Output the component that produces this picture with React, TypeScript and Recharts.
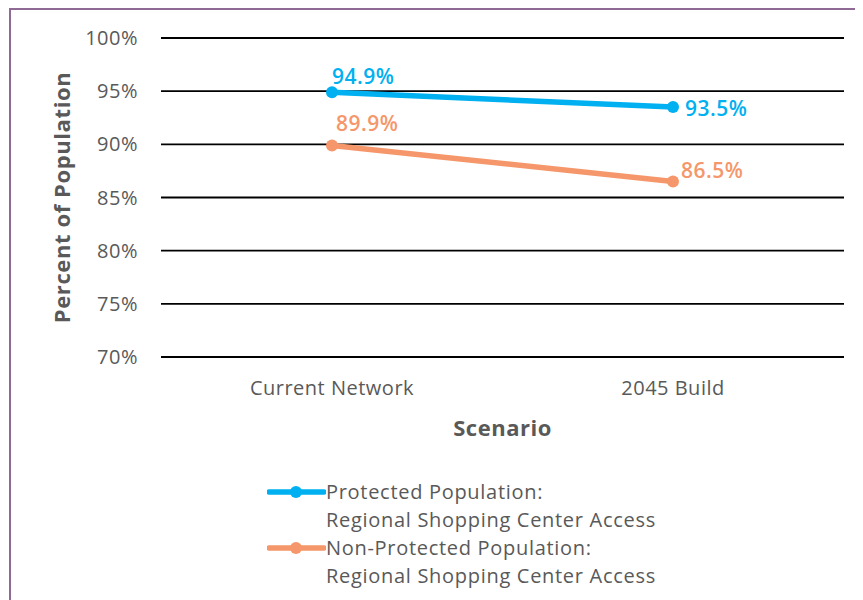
import { CartesianGrid, LabelList, Line, LineChart, XAxis, YAxis } from "recharts";

const scenarios = ["Current Network", "2045 Build"];
const protectedPct = [94.9, 93.5];
const nonProtectedPct = [89.9, 86.5];
const yTicks = [70, 75, 80, 85, 90, 95, 100];

const rows = scenarios.map((scenario, i) => ({
  scenario,
  protectedPct: protectedPct[i],
  nonProtectedPct: nonProtectedPct[i],
}));

const BLUE = "#00B0F0";
const ORANGE = "#F5976A";
const TEXT = "#595959";
const FONT = "'Open Sans', sans-serif";

// label offsets (dx, dy) from each point, by index
const blueOffsets = [
  [0, -16],
  [12, 1],
];
const orangeOffsets = [
  [4, -22],
  [8, -12],
];

function makeLabel(color: string, offsets: number[][]) {
  return (props: any) => {
    const { x, y, value, index } = props;
    const [dx, dy] = offsets[index] ?? [0, 0];
    return (
      <text
        x={x + dx}
        y={y + dy}
        dominantBaseline="central"
        fill={color}
        fontFamily={FONT}
        fontSize={21}
        fontWeight={600}
        letterSpacing={0.5}
      >
        {`${value}%`}
      </text>
    );
  };
}

const legendItems = [
  { color: BLUE, lines: ["Protected Population:", "Regional Shopping Center Access"] },
  { color: ORANGE, lines: ["Non-Protected Population:", "Regional Shopping Center Access"] },
];

function ChartLegend() {
  return (
    <div
      style={{
        position: "absolute",
        left: 256,
        top: 468,
        fontFamily: FONT,
        fontSize: 20,
        letterSpacing: 0.7,
        color: TEXT,
        lineHeight: "28px",
      }}
    >
      {legendItems.map((item) => (
        <div key={item.lines[0]} style={{ display: "flex", alignItems: "flex-start" }}>
          <svg width={59} height={28} style={{ flexShrink: 0 }}>
            <line x1={2} y1={14} x2={57} y2={14} stroke={item.color} strokeWidth={5.5} strokeLinecap="round" />
            <circle cx={29} cy={14} r={6} fill={item.color} />
          </svg>
          <div>
            {item.lines.map((l) => (
              <div key={l}>{l}</div>
            ))}
          </div>
        </div>
      ))}
    </div>
  );
}

export default function App() {
  return (
    <div
      style={{
        position: "relative",
        marginLeft: 1,
        width: 870,
        height: 610,
        borderTop: "2px solid #8E6A94",
        borderLeft: "2px solid #8E6A94",
        background: "#fff",
      }}
    >
      <LineChart
        width={852}
        height={590}
        data={rows}
        margin={{ top: 28, right: 19, bottom: 153, left: 0 }}
      >
        <CartesianGrid vertical={false} stroke="#000" strokeWidth={1.8} />
        <XAxis
          dataKey="scenario"
          axisLine={false}
          tickLine={false}
          tickMargin={18}
          interval={0}
          height={90}
          padding={{ left: 171, right: 171 }}
          tick={{ fill: TEXT, fontSize: 20, fontFamily: FONT, letterSpacing: 0.5 }}
          label={{
            value: "Scenario",
            position: "insideTop",
            offset: 63,
            fill: TEXT,
            fontSize: 22,
            fontWeight: 700,
            letterSpacing: 0.5,
            fontFamily: FONT,
          }}
        />
        <YAxis
          width={150}
          domain={[70, 100]}
          ticks={yTicks}
          interval={0}
          axisLine={false}
          tickLine={false}
          tickMargin={17}
          tickFormatter={(v) => `${v}%`}
          tick={{ fill: TEXT, fontSize: 20, fontFamily: FONT, letterSpacing: 0.5 }}
          label={{
            value: "Percent of Population",
            angle: -90,
            position: "insideLeft",
            offset: 51,
            fill: TEXT,
            fontSize: 22,
            fontWeight: 700,
            letterSpacing: 0.6,
            fontFamily: FONT,
            style: { textAnchor: "middle" },
          }}
        />
        <Line
          dataKey="protectedPct"
          name="Protected Population: Regional Shopping Center Access"
          stroke={BLUE}
          strokeWidth={5.5}
          dot={{ r: 6, fill: BLUE, stroke: BLUE, strokeWidth: 0 }}
          isAnimationActive={false}
        >
          <LabelList dataKey="protectedPct" content={makeLabel(BLUE, blueOffsets)} />
        </Line>
        <Line
          dataKey="nonProtectedPct"
          name="Non-Protected Population: Regional Shopping Center Access"
          stroke={ORANGE}
          strokeWidth={5.5}
          dot={{ r: 6, fill: ORANGE, stroke: ORANGE, strokeWidth: 0 }}
          isAnimationActive={false}
        >
          <LabelList dataKey="nonProtectedPct" content={makeLabel(ORANGE, orangeOffsets)} />
        </Line>
      </LineChart>
      <ChartLegend />
    </div>
  );
}
